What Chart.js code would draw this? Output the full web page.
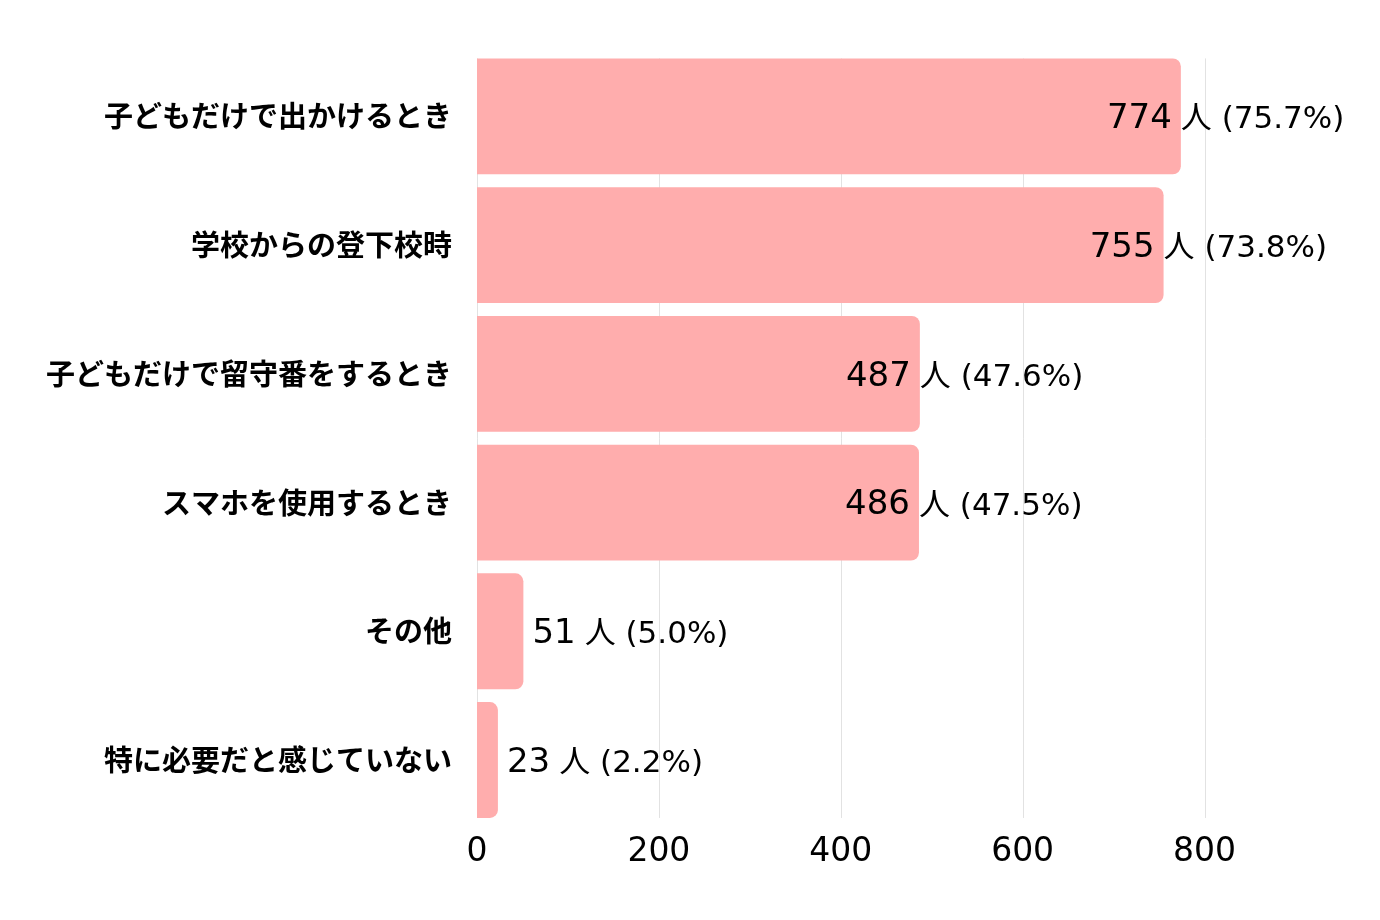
<!DOCTYPE html>
<html>
<head>
<meta charset="utf-8">
<script src="https://cdn.jsdelivr.net/npm/chart.js@4"></script>
<style>
  html, body { margin: 0; padding: 0; background: #fff; }
  #wrap { width: 1380px; height: 920px; }
</style>
</head>
<body>
<div id="wrap"><canvas id="bar-chart"></canvas></div>
<script>
const categories = [
  '子どもだけで出かけるとき',
  '学校からの登下校時',
  '子どもだけで留守番をするとき',
  'スマホを使用するとき',
  'その他',
  '特に必要だと感じていない',
];
const counts = [774, 755, 487, 486, 51, 23];
const percents = ['75.7', '73.8', '47.6', '47.5', '5.0', '2.2'];
const xTicks = [0, 200, 400, 600, 800];

const barColor = 'rgba(255, 173, 173, 1)';
const gridColor = '#e2e2e2';

// vertical grid lines, only as tall as the bars
const barGrid = {
  id: 'barGrid',
  beforeDatasetsDraw(chart) {
    const ctx = chart.ctx;
    const bars = chart.getDatasetMeta(0).data;
    const top = bars[0].y - bars[0].height / 2;
    const last = bars[bars.length - 1];
    const bottom = last.y + last.height / 2;
    const xs = chart.scales.x;
    ctx.save();
    ctx.strokeStyle = gridColor;
    ctx.lineWidth = 1;
    xTicks.forEach(v => {
      const x = Math.round(xs.getPixelForValue(v)) + 0.5;
      ctx.beginPath();
      ctx.moveTo(x, top);
      ctx.lineTo(x, bottom);
      ctx.stroke();
    });
    ctx.restore();
  }
};

// draws "774 人 (75.7%)" next to each bar, number bigger than the rest
const valueLabels = {
  id: 'valueLabels',
  afterDatasetsDraw(chart) {
    const ctx = chart.ctx;
    const meta = chart.getDatasetMeta(0);
    ctx.save();
    ctx.fillStyle = '#000';
    ctx.textBaseline = 'middle';
    meta.data.forEach((bar, i) => {
      const num = String(counts[i]);
      const rest = '人 (' + percents[i] + '%)';
      ctx.font = '34px "DejaVu Sans", "Noto Sans CJK JP"';
      const numW = ctx.measureText(num).width;
      let x;
      if (bar.width > 300) {
        x = bar.x - 9 - numW;
      } else {
        x = bar.x + 9;
      }
      ctx.fillText(num, x, bar.y + 3);
      ctx.font = '31px "DejaVu Sans", "Noto Sans CJK JP"';
      ctx.fillText(rest, x + numW + 9, bar.y + 4);
    });
    ctx.restore();
  }
};

const chart = new Chart(document.getElementById('bar-chart'), {
  type: 'bar',
  data: {
    labels: categories,
    datasets: [{
      data: counts,
      backgroundColor: barColor,
      borderRadius: 8,
      borderSkipped: 'start',
      categoryPercentage: 0.9,
      barPercentage: 1.0,
    }],
  },
  options: {
    indexAxis: 'y',
    responsive: true,
    maintainAspectRatio: false,
    animation: false,
    layout: { padding: { left: 10, right: 30, top: 52, bottom: 40 } },
    plugins: {
      legend: { display: false },
      tooltip: { enabled: false },
    },
    scales: {
      x: {
        min: 0,
        max: 960,
        border: { display: false },
        grid: { display: false, drawTicks: false },
        afterBuildTicks(scale) {
          scale.ticks = xTicks.map(v => ({ value: v }));
        },
        ticks: {
          color: '#000',
          padding: 8,
          font: { family: '"DejaVu Sans"', size: 33 },
        },
      },
      y: {
        border: { display: false },
        grid: { display: false, drawTicks: false },
        afterFit(scale) { scale.width = 467; },
        ticks: {
          color: '#000',
          padding: 25,
          font: { family: '"Noto Sans CJK JP"', size: 29, weight: 'bold' },
        },
      },
    },
  },
  plugins: [barGrid, valueLabels],
});
</script>
</body>
</html>
